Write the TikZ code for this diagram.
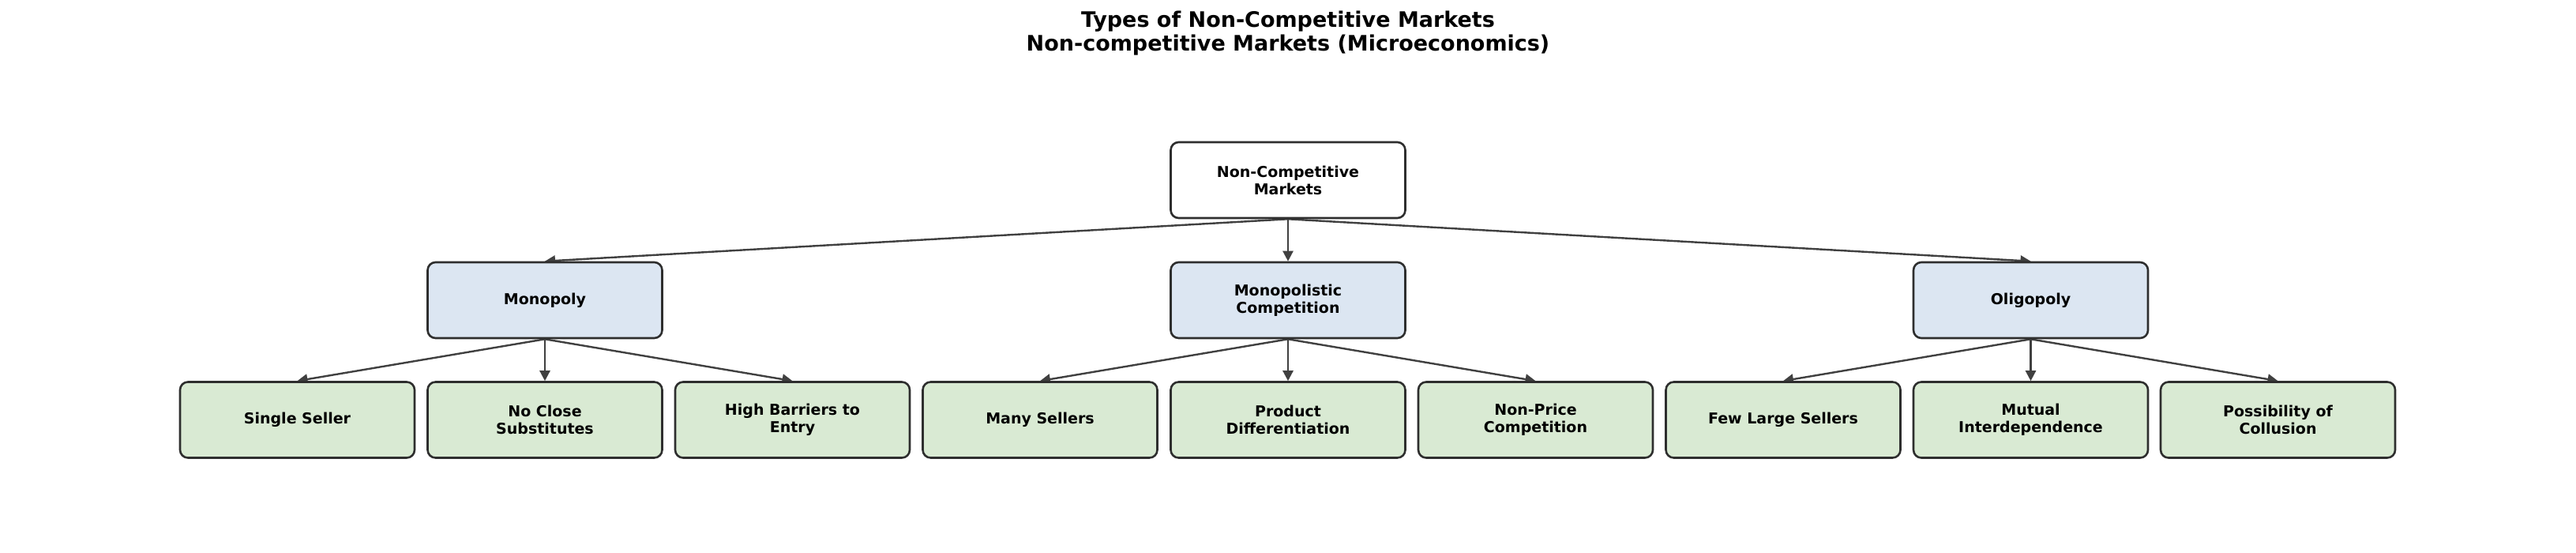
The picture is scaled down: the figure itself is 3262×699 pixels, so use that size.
\documentclass[tikz,border=0pt]{standalone}
\usepackage{fontspec}
\setmainfont{DejaVu Sans}
\usetikzlibrary{arrows.meta,backgrounds}
\definecolor{bluefill}{HTML}{DCE6F2}
\definecolor{greenfill}{HTML}{D9EAD3}
\definecolor{borderc}{HTML}{2E2E2E}
\definecolor{edgec}{HTML}{404040}
\tikzset{
  box/.style={rectangle, rounded corners=10pt, draw=borderc, line width=2.6pt,
    minimum width=297pt, minimum height=96pt, align=center, inner sep=0pt,
    font=\fontsize{19}{22}\selectfont\bfseries},
  rootbox/.style={box, fill=white},
  midbox/.style={box, fill=bluefill},
  leafbox/.style={box, fill=greenfill},
  link/.style={draw=edgec, line width=2.4pt, -{Triangle[length=13pt,width=13pt]}},
  titletext/.style={align=center, font=\fontsize{27}{30}\selectfont\bfseries}
}
\begin{document}
\begin{tikzpicture}[x=1pt,y=-1pt]
\useasboundingbox (0,0) rectangle (3262,699);
\node[titletext] (title) at (1631,42) {Types of Non-Competitive Markets\\Non-competitive Markets (Microeconomics)};
\node[rootbox] (root) at (1631,228) {Non-Competitive\\Markets};
\node[midbox] (mono) at (690,380) {Monopoly};
\node[midbox] (monoc) at (1631,380) {Monopolistic\\Competition};
\node[midbox] (oli) at (2571.5,380) {Oligopoly};
\node[leafbox] (l1) at (376.5,531.5) {Single Seller};
\node[leafbox] (l2) at (690,531.5) {No Close\\Substitutes};
\node[leafbox] (l3) at (1003.5,531.5) {High Barriers to\\Entry};
\node[leafbox] (l4) at (1317,531.5) {Many Sellers};
\node[leafbox] (l5) at (1631,531.5) {Product\\Differentiation};
\node[leafbox] (l6) at (1944.5,531.5) {Non-Price\\Competition};
\node[leafbox] (l7) at (2258,531.5) {Few Large Sellers};
\node[leafbox] (l8) at (2571.5,531.5) {Mutual\\Interdependence};
\node[leafbox] (l9) at (2884.5,531.5) {Possibility of\\Collusion};
\begin{scope}[on background layer]
\draw[link] (root.south) -- (mono.north);
\draw[link] (root.south) -- (monoc.north);
\draw[link] (root.south) -- (oli.north);
\draw[link] (mono.south) -- (l1.north);
\draw[link] (mono.south) -- (l2.north);
\draw[link] (mono.south) -- (l3.north);
\draw[link] (monoc.south) -- (l4.north);
\draw[link] (monoc.south) -- (l5.north);
\draw[link] (monoc.south) -- (l6.north);
\draw[link] (oli.south) -- (l7.north);
\draw[link] (oli.south) -- (l8.north);
\draw[link] (oli.south) -- (l9.north);
\end{scope}
\end{tikzpicture}
\end{document}
